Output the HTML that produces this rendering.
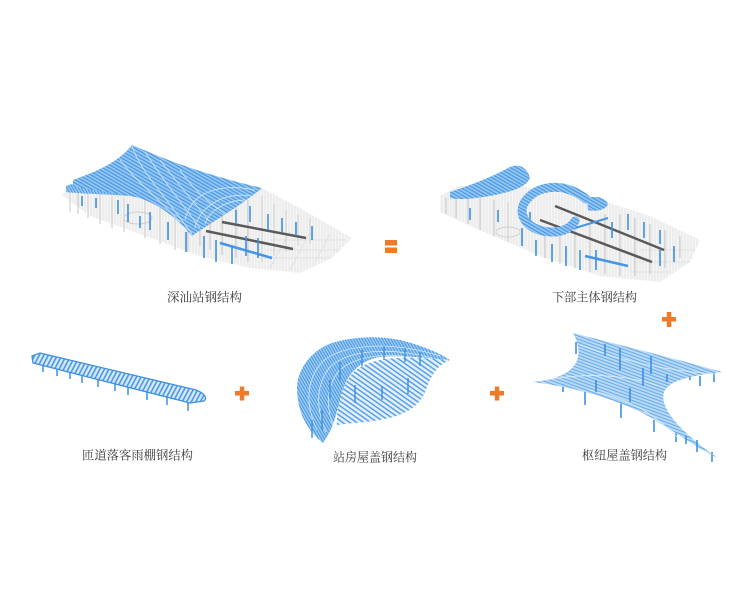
<!DOCTYPE html>
<html>
<head>
<meta charset="utf-8">
<style>
html,body{margin:0;padding:0;background:#fff;}
body{width:750px;height:600px;overflow:hidden;}
svg{display:block;}
text{font-family:"Liberation Serif","Noto Serif CJK SC",serif;font-size:12.3px;fill:#3a3a3a;}
</style>
</head>
<body>
<svg width="750" height="600" viewBox="0 0 750 600" xmlns="http://www.w3.org/2000/svg">
<defs>
  <pattern id="gray" width="3" height="6" patternUnits="userSpaceOnUse">
    <rect width="3" height="6" fill="#f3f3f3"/>
    <line x1="1" y1="0" x2="1" y2="6" stroke="#d9d9d9" stroke-width="0.8"/>
  </pattern>
  <pattern id="blueRoof" width="3" height="3" patternUnits="userSpaceOnUse" patternTransform="rotate(30)">
    <rect width="3" height="3" fill="#94c6f2"/>
    <line x1="0" y1="1" x2="3" y2="1" stroke="#4394e2" stroke-width="1.1"/>
  </pattern>
  <pattern id="blueLight" width="3" height="3" patternUnits="userSpaceOnUse" patternTransform="rotate(20)">
    <rect width="3" height="3" fill="#b8d9f5"/>
    <line x1="0" y1="1" x2="3" y2="1" stroke="#66aaeb" stroke-width="1"/>
  </pattern>
  <pattern id="blueDense" width="2.5" height="2.5" patternUnits="userSpaceOnUse" patternTransform="rotate(60)">
    <rect width="2.5" height="2.5" fill="#9ccaf2"/>
    <line x1="0" y1="1" x2="2.5" y2="1" stroke="#4596e4" stroke-width="1"/>
  </pattern>
  <pattern id="floorHatch" width="4" height="4" patternUnits="userSpaceOnUse" patternTransform="rotate(35)">
    <rect width="4" height="4" fill="#e6f1fc"/>
    <line x1="0" y1="1.5" x2="4" y2="1.5" stroke="#4a98e6" stroke-width="1.4"/>
  </pattern>
  <pattern id="canopy" width="4" height="4" patternUnits="userSpaceOnUse" patternTransform="rotate(-62)">
    <rect width="4" height="4" fill="#d7e9fa"/>
    <line x1="0" y1="1.5" x2="4" y2="1.5" stroke="#3f92e2" stroke-width="1.5"/>
  </pattern>
</defs>

<!-- ================= TOP LEFT: 深汕站钢结构 ================= -->
<g>
  <polygon points="62,195 80,178 140,180 262,188 300,208 352,238 332,258 300,273 250,268 200,256 140,234 90,216" fill="url(#gray)" opacity="0.8"/>
  <g stroke="#dcdcdc" stroke-width="0.7">
    <line x1="270" y1="240" x2="345" y2="240"/>
    <line x1="265" y1="250" x2="340" y2="250"/>
    <line x1="260" y1="258" x2="330" y2="258"/>
    <line x1="290" y1="232" x2="270" y2="268"/>
    <line x1="310" y1="232" x2="290" y2="270"/>
    <line x1="330" y1="234" x2="315" y2="262"/>
  </g>
  <g stroke="#c6c6c6" stroke-width="1">
    <line x1="70" y1="192" x2="70" y2="212"/><line x1="78" y1="190" x2="78" y2="214"/>
    <line x1="88" y1="192" x2="88" y2="218"/><line x1="100" y1="194" x2="100" y2="224"/>
    <line x1="112" y1="196" x2="112" y2="228"/><line x1="124" y1="198" x2="124" y2="232"/>
    <line x1="200" y1="200" x2="200" y2="246"/><line x1="210" y1="196" x2="210" y2="250"/>
    <line x1="222" y1="198" x2="222" y2="255"/><line x1="236" y1="200" x2="236" y2="258"/>
    <line x1="248" y1="200" x2="248" y2="262"/><line x1="262" y1="196" x2="262" y2="262"/>
    <line x1="274" y1="204" x2="274" y2="256"/><line x1="286" y1="210" x2="286" y2="252"/>
    <line x1="298" y1="214" x2="298" y2="246"/><line x1="310" y1="218" x2="310" y2="244"/>
    <line x1="145" y1="200" x2="145" y2="238"/><line x1="160" y1="205" x2="160" y2="244"/>
    <line x1="175" y1="210" x2="175" y2="250"/><line x1="188" y1="215" x2="188" y2="252"/>
  </g>
  <ellipse cx="138" cy="218" rx="14" ry="6" fill="none" stroke="#cfcfcf" stroke-width="1"/>
  <line x1="222" y1="222" x2="306" y2="238" stroke="#5a5a5a" stroke-width="2.5"/>
  <line x1="206" y1="231" x2="293" y2="249" stroke="#5a5a5a" stroke-width="2.5"/>
  <line x1="220" y1="243" x2="272" y2="258" stroke="#4596e4" stroke-width="2.5"/>
  <g stroke="#3d8fe0" stroke-width="1.6">
    <line x1="82" y1="196" x2="82" y2="206"/><line x1="96" y1="198" x2="96" y2="208"/>
    <line x1="118" y1="200" x2="118" y2="214"/><line x1="150" y1="212" x2="150" y2="230"/>
    <line x1="168" y1="222" x2="168" y2="240"/><line x1="186" y1="232" x2="186" y2="252"/>
    <line x1="204" y1="236" x2="204" y2="258"/><line x1="216" y1="240" x2="216" y2="262"/>
    <line x1="232" y1="246" x2="232" y2="264"/><line x1="246" y1="236" x2="246" y2="256"/>
    <line x1="258" y1="238" x2="258" y2="258"/><line x1="268" y1="214" x2="268" y2="230"/>
    <line x1="282" y1="218" x2="282" y2="232"/><line x1="296" y1="222" x2="296" y2="236"/>
    <line x1="312" y1="226" x2="312" y2="240"/><line x1="236" y1="210" x2="236" y2="224"/>
    <line x1="250" y1="206" x2="250" y2="222"/><line x1="140" y1="216" x2="140" y2="228"/>
    <line x1="128" y1="204" x2="128" y2="222"/>
  </g>
  <path d="M66,186 C 80,180 100,182 125,186 L 130,196 C 105,194 82,194 66,192 Z" fill="url(#blueDense)"/>
  <path d="M73,180 C 95,172 118,163 132,145 C 150,152 185,170 262,188 C 242,205 212,222 192,236 C 176,216 152,199 130,196 C 108,192 90,190 73,186 Z" fill="url(#blueRoof)"/>
  <g fill="none" stroke="#d6e9fa" stroke-width="0.9" opacity="0.9">
    <path d="M132,146 C 140,170 160,190 192,234"/>
    <path d="M120,160 C 135,180 155,195 180,222"/>
    <path d="M145,152 C 160,175 175,195 200,228"/>
    <path d="M160,160 C 175,180 190,198 210,222"/>
    <path d="M180,170 C 190,185 205,200 225,214"/>
    <path d="M185,220 C 190,195 215,182 255,190"/>
    <path d="M195,228 C 200,205 225,192 252,196"/>
    <path d="M205,224 C 210,208 230,200 246,200"/>
  </g>
</g>

<!-- equals -->
<rect x="385" y="240" width="12" height="5.5" fill="#ee7a2a"/>
<rect x="385" y="247.5" width="12" height="5.5" fill="#ee7a2a"/>

<!-- ================= TOP RIGHT: 下部主体钢结构 ================= -->
<g>
  <polygon points="440,196 458,186 520,186 600,200 650,216 700,240 690,262 660,282 600,276 540,256 470,226 440,212" fill="url(#gray)" opacity="0.8"/>
  <g stroke="#dcdcdc" stroke-width="0.7">
    <line x1="640" y1="250" x2="695" y2="250"/>
    <line x1="635" y1="262" x2="690" y2="262"/>
    <line x1="630" y1="272" x2="670" y2="272"/>
  </g>
  <g stroke="#c6c6c6" stroke-width="1">
    <line x1="446" y1="198" x2="446" y2="214"/><line x1="456" y1="196" x2="456" y2="218"/>
    <line x1="468" y1="198" x2="468" y2="224"/><line x1="480" y1="198" x2="480" y2="230"/>
    <line x1="494" y1="200" x2="494" y2="236"/><line x1="508" y1="202" x2="508" y2="242"/>
    <line x1="545" y1="236" x2="545" y2="258"/><line x1="560" y1="236" x2="560" y2="264"/>
    <line x1="575" y1="228" x2="575" y2="268"/><line x1="590" y1="224" x2="590" y2="272"/>
    <line x1="605" y1="214" x2="605" y2="274"/><line x1="620" y1="214" x2="620" y2="276"/>
    <line x1="635" y1="218" x2="635" y2="276"/><line x1="650" y1="224" x2="650" y2="274"/>
    <line x1="665" y1="230" x2="665" y2="268"/><line x1="680" y1="236" x2="680" y2="258"/>
  </g>
  <ellipse cx="508" cy="232" rx="12" ry="5" fill="none" stroke="#cfcfcf" stroke-width="1"/>
  <line x1="555" y1="206" x2="664" y2="250" stroke="#5a5a5a" stroke-width="2.5"/>
  <line x1="540" y1="220" x2="652" y2="262" stroke="#5a5a5a" stroke-width="2.5"/>
  <line x1="585" y1="256" x2="628" y2="266" stroke="#4596e4" stroke-width="2.5"/>
  <line x1="562" y1="232" x2="608" y2="218" stroke="#4596e4" stroke-width="2"/>
  <g stroke="#3d8fe0" stroke-width="1.6">
    <line x1="470" y1="208" x2="470" y2="220"/><line x1="498" y1="210" x2="498" y2="222"/>
    <line x1="522" y1="228" x2="522" y2="246"/><line x1="536" y1="240" x2="536" y2="256"/>
    <line x1="552" y1="244" x2="552" y2="262"/><line x1="566" y1="246" x2="566" y2="266"/>
    <line x1="580" y1="250" x2="580" y2="270"/><line x1="596" y1="250" x2="596" y2="270"/>
    <line x1="612" y1="222" x2="612" y2="238"/><line x1="628" y1="214" x2="628" y2="230"/>
    <line x1="644" y1="222" x2="644" y2="238"/><line x1="660" y1="230" x2="660" y2="244"/>
    <line x1="660" y1="250" x2="660" y2="266"/><line x1="674" y1="246" x2="674" y2="262"/>
    <line x1="530" y1="212" x2="530" y2="226"/>
  </g>
  <path d="M450,192 C 468,186 490,178 508,168 C 518,162 528,168 530,178 C 526,188 510,192 490,196 C 472,199 458,200 450,198 Z" fill="url(#blueRoof)"/>
  <path d="M586,199 C 566,183 540,184 527,199 C 514,214 528,233 555,232 C 566,231 572,226 575,221" fill="none" stroke="url(#blueRoof)" stroke-width="9" stroke-linecap="round"/>
  <path d="M587,198 C 596,195 606,198 608,204 C 606,210 596,212 588,210 Z" fill="url(#blueRoof)"/>
</g>

<!-- plus top right -->
<rect x="662" y="317" width="14" height="4.5" fill="#ee7a2a"/>
<rect x="666.8" y="312" width="4.5" height="15" fill="#ee7a2a"/>

<!-- ================= BOTTOM LEFT: canopy ================= -->
<g>
  <g stroke="#3d8fe0" stroke-width="1.5">
    <line x1="43" y1="364" x2="43" y2="372"/><line x1="57" y1="367" x2="57" y2="376"/>
    <line x1="70" y1="370" x2="70" y2="379"/><line x1="82" y1="373" x2="82" y2="383"/>
    <line x1="98" y1="377" x2="98" y2="387"/><line x1="115" y1="381" x2="115" y2="391"/>
    <line x1="128" y1="384" x2="128" y2="395"/><line x1="147" y1="389" x2="147" y2="400"/>
    <line x1="167" y1="394" x2="167" y2="405"/><line x1="188" y1="400" x2="188" y2="411"/>
  </g>
  <path d="M32,356 L 40,353 L 196,390 C 204,393 208,398 204,401 L 190,403 L 33,363 Z" fill="url(#canopy)" stroke="#3d8fe0" stroke-width="1.3"/>
</g>

<!-- plus -->
<rect x="235" y="391" width="14" height="4.5" fill="#ee7a2a"/>
<rect x="239.8" y="386.5" width="4.5" height="14" fill="#ee7a2a"/>

<!-- ================= BOTTOM MIDDLE: station roof ================= -->
<g>
  <path d="M337,425 C 336,405 342,382 356,370 C 375,356 405,356 450,360 C 440,364 432,372 426,390 C 420,405 408,415 380,420 C 362,423 348,423 337,425 Z" fill="url(#floorHatch)"/>
  <path d="M323,443 C 305,428 297,410 297,387 C 298,368 312,350 332,343 C 355,336 380,336 400,340 C 420,345 438,352 450,360 C 430,358 400,355 380,357 C 362,360 348,372 342,392 C 337,408 336,425 323,443 Z" fill="url(#blueDense)"/>
  <g fill="none" stroke="#d4e7f8" stroke-width="0.8">
    <path d="M317,430 C 305,405 306,380 322,362 C 345,342 395,342 440,356"/>
    <path d="M326,432 C 316,410 315,385 330,367 C 350,348 395,348 432,358"/>
    <path d="M334,428 C 326,408 326,388 338,372 C 355,354 392,352 425,360"/>
  </g>
  <g stroke="#3d8fe0" stroke-width="1.4">
    <line x1="312" y1="420" x2="312" y2="438"/><line x1="322" y1="410" x2="322" y2="430"/>
    <line x1="330" y1="380" x2="330" y2="398"/><line x1="340" y1="362" x2="340" y2="380"/>
    <line x1="362" y1="350" x2="362" y2="366"/><line x1="384" y1="346" x2="384" y2="360"/>
    <line x1="405" y1="348" x2="405" y2="362"/><line x1="420" y1="352" x2="420" y2="366"/>
    <line x1="355" y1="385" x2="355" y2="403"/><line x1="382" y1="386" x2="382" y2="400"/>
    <line x1="408" y1="378" x2="408" y2="394"/>
  </g>
</g>

<!-- plus -->
<rect x="490" y="391" width="14" height="4.5" fill="#ee7a2a"/>
<rect x="494.8" y="386.5" width="4.5" height="14" fill="#ee7a2a"/>

<!-- ================= BOTTOM RIGHT: hub roof ================= -->
<g>
  <g stroke="#3d8fe0" stroke-width="1.6">
    <line x1="576" y1="342" x2="576" y2="354"/><line x1="585" y1="385" x2="585" y2="405"/>
    <line x1="563" y1="384" x2="563" y2="392"/><line x1="621" y1="398" x2="621" y2="418"/>
    <line x1="654" y1="420" x2="654" y2="432"/><line x1="676" y1="432" x2="676" y2="442"/>
    <line x1="712" y1="452" x2="712" y2="462"/><line x1="714" y1="372" x2="714" y2="382"/>
    <line x1="690" y1="372" x2="690" y2="380"/>
  </g>
  <path d="M573,333 C 585,355 580,378 532,382 C 560,385 610,395 650,417 C 680,435 700,450 718,458 C 692,440 658,412 664,392 C 670,378 700,375 722,372 C 680,360 620,345 573,333 Z" fill="url(#blueLight)"/>
  <g fill="none" stroke="#e4f0fb" stroke-width="0.8" opacity="0.9">
    <path d="M580,345 C 620,360 660,370 715,374"/>
    <path d="M545,380 C 590,372 630,375 665,388"/>
    <path d="M590,390 C 630,400 650,410 680,440"/>
  </g>
  <g stroke="#3d8fe0" stroke-width="1.6">
    <line x1="605" y1="344" x2="605" y2="356"/><line x1="620" y1="348" x2="620" y2="370"/>
    <line x1="651" y1="356" x2="651" y2="374"/><line x1="643" y1="368" x2="643" y2="386"/>
    <line x1="596" y1="380" x2="596" y2="392"/><line x1="630" y1="388" x2="630" y2="402"/>
    <line x1="667" y1="374" x2="667" y2="382"/><line x1="700" y1="376" x2="700" y2="386"/>
    <line x1="686" y1="436" x2="686" y2="444"/><line x1="697" y1="440" x2="697" y2="452"/>
  </g>
</g>

<!-- labels -->
<text x="204.5" y="301.5" text-anchor="middle" textLength="75" lengthAdjust="spacingAndGlyphs">深汕站钢结构</text>
<text x="594.5" y="301.5" text-anchor="middle" textLength="85" lengthAdjust="spacingAndGlyphs">下部主体钢结构</text>
<text x="137.5" y="459.5" text-anchor="middle" textLength="111" lengthAdjust="spacingAndGlyphs">匝道落客雨棚钢结构</text>
<text x="375" y="461.5" text-anchor="middle" textLength="84" lengthAdjust="spacingAndGlyphs">站房屋盖钢结构</text>
<text x="624.5" y="459.5" text-anchor="middle" textLength="85" lengthAdjust="spacingAndGlyphs">枢纽屋盖钢结构</text>
</svg>
</body>
</html>
